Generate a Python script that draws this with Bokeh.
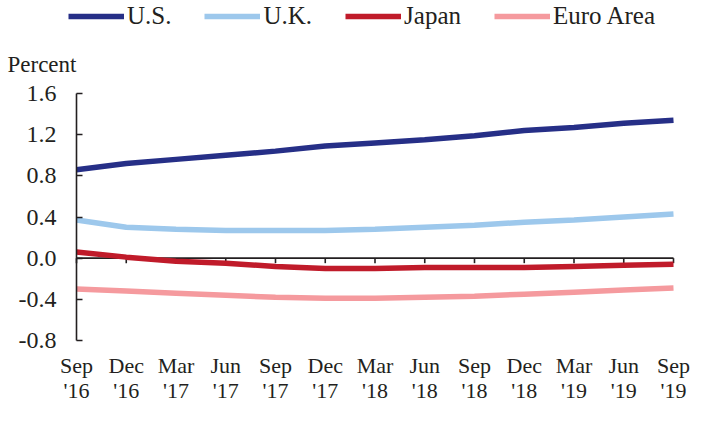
from bokeh.plotting import figure
from bokeh.models import (FixedTicker, Legend, LegendItem, Range1d, Label, LinearAxis)
from bokeh.embed import file_html
from bokeh.resources import INLINE

months = ["Sep", "Dec", "Mar", "Jun", "Sep", "Dec", "Mar", "Jun", "Sep", "Dec", "Mar", "Jun", "Sep"]
years = ["'16", "'16", "'17", "'17", "'17", "'17", "'18", "'18", "'18", "'18", "'19", "'19", "'19"]
us = [0.86, 0.92, 0.96, 1.00, 1.04, 1.09, 1.12, 1.15, 1.19, 1.24, 1.27, 1.31, 1.34]
uk = [0.37, 0.30, 0.28, 0.27, 0.27, 0.27, 0.28, 0.30, 0.32, 0.35, 0.37, 0.40, 0.43]
japan = [0.06, 0.01, -0.03, -0.05, -0.08, -0.10, -0.10, -0.09, -0.09, -0.09, -0.08, -0.07, -0.06]
euro = [-0.30, -0.32, -0.34, -0.36, -0.38, -0.39, -0.39, -0.38, -0.37, -0.35, -0.33, -0.31, -0.29]
y_ticks = [-0.8, -0.4, 0.0, 0.4, 0.8, 1.2, 1.6]

names = ["U.S.", "U.K.", "Japan", "Euro Area"]
colors = ["#262F87", "#9DC8EC", "#C01B2A", "#F59A9E"]
series = [us, uk, japan, euro]

FONT = "Liberation Serif"
TXT = "#231F20"
xs = list(range(len(months)))

# canvas and plot-area geometry (pixels)
W, H = 697, 408
PX_LEFT, PX_RIGHT = 76, 673      # first / last category
PX_TOP, PX_BOTTOM = 93, 340      # y = 1.6 / y = -0.8
ymin, ymax = y_ticks[0], y_ticks[-1]
ppx = (PX_RIGHT - PX_LEFT) / (len(xs) - 1)
ppy = (PX_BOTTOM - PX_TOP) / (ymax - ymin)
x_range = Range1d(-PX_LEFT / ppx, (len(xs) - 1) + (W - PX_RIGHT) / ppx)
y_range = Range1d(ymin - (H - PX_BOTTOM) / ppy, ymax + PX_TOP / ppy)

p = figure(width=W, height=H, output_backend="svg", toolbar_location=None,
           title_location=None, x_axis_location=None, y_axis_location=None,
           x_range=x_range, y_range=y_range, min_border=0)
p.outline_line_color = None
p.grid.visible = False

# y axis anchored at the first category
ya = LinearAxis(fixed_location=0, bounds=(ymin, ymax), ticker=FixedTicker(ticks=y_ticks))
ya.major_label_overrides = {t: f"{t:.1f}" for t in y_ticks}
ya.axis_line_color = TXT
ya.axis_line_width = 1.6
ya.major_tick_line_color = TXT
ya.major_tick_line_width = 1.6
ya.major_tick_in = 6
ya.major_tick_out = 0
ya.minor_tick_line_color = None
ya.major_label_standoff = 20
ya.major_label_text_font = FONT
ya.major_label_text_font_size = "24px"
ya.major_label_text_font_style = "normal"
ya.major_label_text_color = TXT
p.add_layout(ya, "left")

# category labels: month row and year row
for labels, standoff in ((months, 6), (years, 31)):
    xa = LinearAxis(fixed_location=ymin, bounds=(0, len(xs) - 1), ticker=FixedTicker(ticks=xs))
    xa.major_label_overrides = {i: s for i, s in enumerate(labels)}
    xa.axis_line_color = None
    xa.major_tick_line_color = None
    xa.minor_tick_line_color = None
    xa.major_label_standoff = standoff
    xa.major_label_text_font = FONT
    xa.major_label_text_font_size = "22px"
    xa.major_label_text_font_style = "normal"
    xa.major_label_text_color = TXT
    p.add_layout(xa, "below")

# zero line with small downward ticks at each category
tick_len = 5 / ppy
p.segment(x0=xs[0], y0=0, x1=xs[-1], y1=0, line_color=TXT, line_width=1.6)
p.segment(x0=xs, y0=[0] * len(xs), x1=xs, y1=[-tick_len] * len(xs),
          line_color=TXT, line_width=1.6)

items = []
for name, col, vals in zip(names, colors, series):
    r = p.line(xs, vals, line_color=col, line_width=5.5)
    items.append(LegendItem(label=name, renderers=[r]))

legend = Legend(items=items, orientation="horizontal", location=(68, 378),
                glyph_width=56, glyph_height=28, label_standoff=3, spacing=33,
                label_text_font=FONT, label_text_font_size="25px",
                label_text_color=TXT, border_line_color=None,
                background_fill_alpha=0, padding=0, margin=0)
p.add_layout(legend, "center")

p.add_layout(Label(x=7, y=H - 64, x_units="screen", y_units="screen", text="Percent",
                   text_font=FONT, text_font_size="23px", text_color=TXT,
                   text_baseline="alphabetic"))

open("out.html", "w").write(file_html(p, INLINE))
